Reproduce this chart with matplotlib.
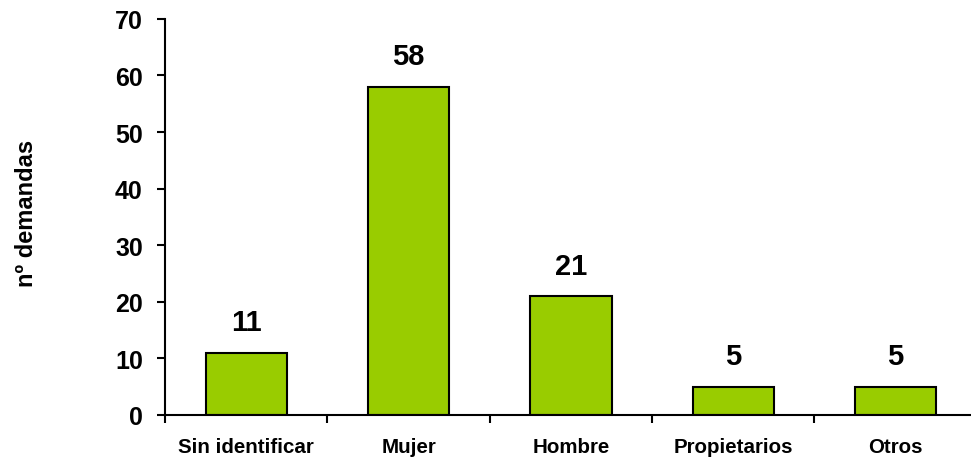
import matplotlib
matplotlib.use("Agg")
import matplotlib.pyplot as plt
import numpy as np

# data
categories = ["Sin identificar", "Mujer", "Hombre", "Propietarios", "Otros"]
demandas = [11, 58, 21, 5, 5]

plt.rcParams['font.family'] = ['Liberation Sans', 'DejaVu Sans']
plt.rcParams['font.weight'] = 'bold'

fig = plt.figure(figsize=(9.71, 4.6), dpi=100)
ax = fig.add_axes([0.170, 0.0957, 0.836, 0.861])

x = np.arange(len(categories))
bars = ax.bar(x, demandas, width=0.5, color="#99CC00",
              edgecolor="black", linewidth=1.5)

# value labels above the bars
for xi, v in zip(x, demandas):
    ax.text(xi, v + 2.9, str(v), ha="center", va="bottom",
            fontsize=21, fontweight="bold")

ax.set_xlim(-0.5, len(categories) - 0.5)
ax.set_ylim(0, 70)
ax.set_yticks(range(0, 71, 10))
ax.tick_params(axis="y", labelsize=18, direction="out", length=6, width=1.5,
               pad=10)

# category labels centred, tick marks at the category boundaries
ax.set_xticks(x)
ax.set_xticklabels(categories, fontsize=14.8, fontweight="bold")
ax.tick_params(axis="x", which="major", length=0, pad=16)
ax.set_xticks(np.arange(-0.5, len(categories), 1), minor=True)
ax.tick_params(axis="x", which="minor", direction="out", length=6, width=1.5)

for side in ["top", "right"]:
    ax.spines[side].set_visible(False)
for side in ["left", "bottom"]:
    ax.spines[side].set_linewidth(1.5)

fig.text(0.027, 0.535, "nº demandas", rotation=90, ha="center", va="center",
         fontsize=17, fontweight="bold")

fig.savefig("out.png", dpi=100)
